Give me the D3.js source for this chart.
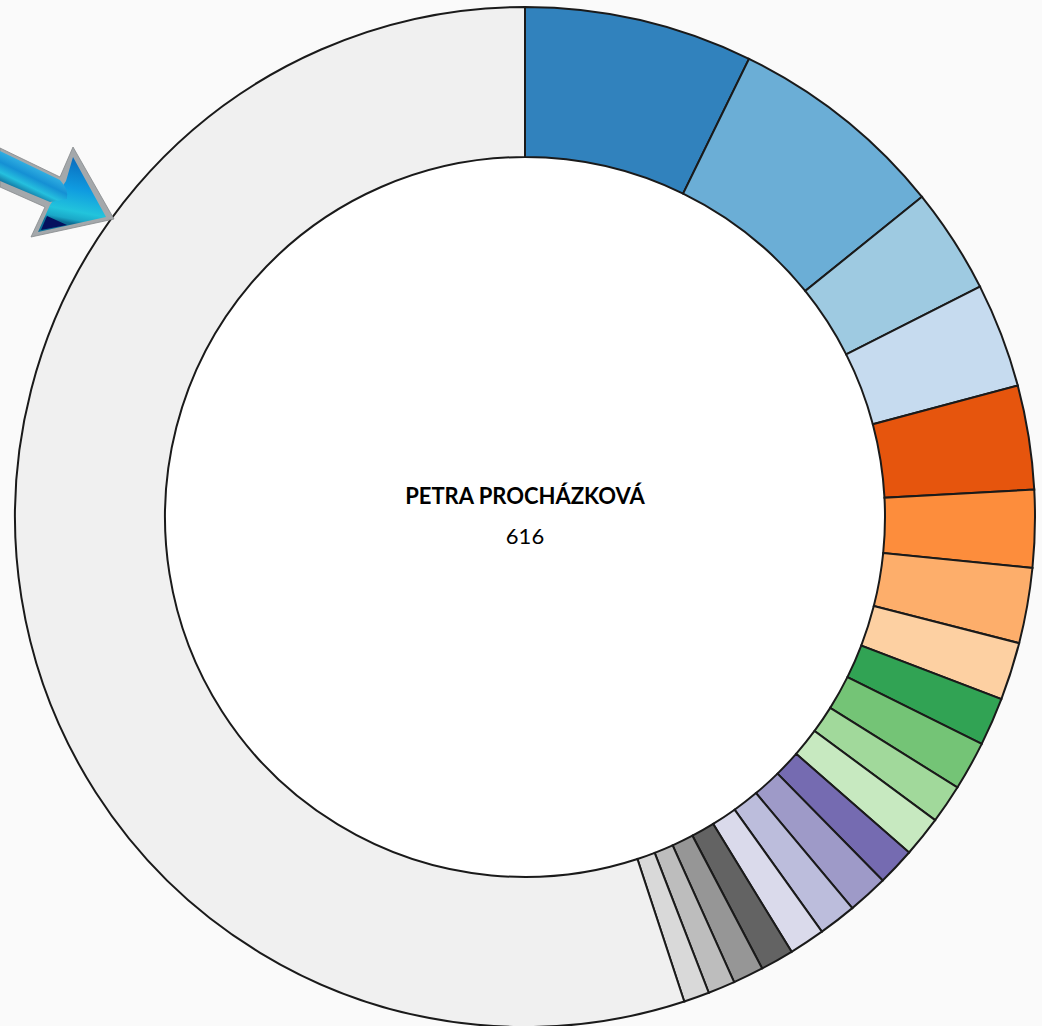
<!DOCTYPE html>
<html>
<head>
<meta charset="utf-8">
<script src="https://cdn.jsdelivr.net/npm/d3@7"></script>
<style>
html, body { margin: 0; padding: 0; background: #fafafa; overflow: hidden; }
svg { display: block; }
text { font-family: Lato, sans-serif; text-anchor: middle; fill: #000; }
</style>
</head>
<body>
<script>
// slice sizes, clockwise from 12 o'clock (last one = everything else)
const sliceValues = [44.6, 42.9, 20.6, 20.4, 20.3, 15.1, 14.7, 11.3, 9.4, 9.6, 7.6, 8, 7.4, 7.9, 7.4, 7, 6.5, 6, 5.3, 5, 339.3];
const sliceColors = ["#3182bd","#6baed6","#9ecae1","#c6dbef","#e6550d","#fd8d3c","#fdae6b","#fdd0a2",
                     "#31a354","#74c476","#a1d99b","#c7e9c0","#756bb1","#9e9ac8","#bcbddc","#dadaeb",
                     "#636363","#969696","#bdbdbd","#d9d9d9","#f0f0f0"];
const centerName = "PETRA PROCHÁZKOVÁ";
const centerValue = "616";

const width = 1042;
const height = 1026;
const cx = 525;
const cy = 517;
const outerR = 510;
const innerR = 360;

const svg = d3.select("body").append("svg")
    .attr("width", width)
    .attr("height", height);

const defs = svg.append("defs");

const shaftGrad = defs.append("linearGradient")
    .attr("id", "shaftGrad")
    .attr("gradientUnits", "userSpaceOnUse")
    .attr("x1", 15).attr("y1", 152).attr("x2", 0).attr("y2", 183);
[[0, "#e8f4f8"], [0.1, "#35b4e4"], [0.45, "#1590d4"], [0.72, "#25c0de"], [0.92, "#1580aa"], [1, "#5d8796"]]
    .forEach(s => shaftGrad.append("stop").attr("offset", s[0]).attr("stop-color", s[1]));

const headGrad = defs.append("linearGradient")
    .attr("id", "headGrad")
    .attr("gradientUnits", "userSpaceOnUse")
    .attr("x1", 76).attr("y1", 160).attr("x2", 64).attr("y2", 222);
[[0, "#0a6fc0"], [0.45, "#0f9be0"], [0.8, "#22c4dc"], [0.93, "#1aa8c8"], [1, "#0c6f96"]]
    .forEach(s => headGrad.append("stop").attr("offset", s[0]).attr("stop-color", s[1]));

// ring
const pie = d3.pie().sort(null).value(d => d);
const arc = d3.arc().innerRadius(innerR).outerRadius(outerR);

const chart = svg.append("g")
    .attr("transform", `translate(${cx}, ${cy})`);

chart.append("circle")
    .attr("r", innerR)
    .attr("fill", "#fff");

chart.selectAll(".slice")
    .data(pie(sliceValues))
    .enter()
    .append("path").classed("slice", true)
    .attr("d", arc)
    .attr("fill", (d, i) => sliceColors[i])
    .attr("stroke", "#1a1a1a")
    .attr("stroke-width", 2);

chart.append("text")
    .attr("y", -13)
    .style("font-size", "22px")
    .style("font-weight", 700)
    .text(centerName);

chart.append("text")
    .attr("y", 27)
    .style("font-size", "22px")
    .style("font-weight", 400)
    .text(centerValue);

// arrow pointing at the ring
const arrow = svg.append("g");

arrow.append("path")
    .attr("d", "M0,148 L60,177 L73,147 L114,219 L31,237 L45,207 L0,187 Z")
    .attr("fill", "#a4a8ab")
    .attr("stroke", "#85898c")
    .attr("stroke-width", 0.8);

arrow.append("path")
    .attr("d", "M73,157 L106,217 L38,232 L50,205 L66,181 Z")
    .attr("fill", "url(#headGrad)");

arrow.append("path")
    .attr("d", "M47,216 L67,225 L41,230 Z")
    .attr("fill", "#04105e");

arrow.append("path")
    .attr("d", "M0,151 L60,180 Q69,190 67,199 L50,202 L0,181 Z")
    .attr("fill", "url(#shaftGrad)");
</script>
</body>
</html>
